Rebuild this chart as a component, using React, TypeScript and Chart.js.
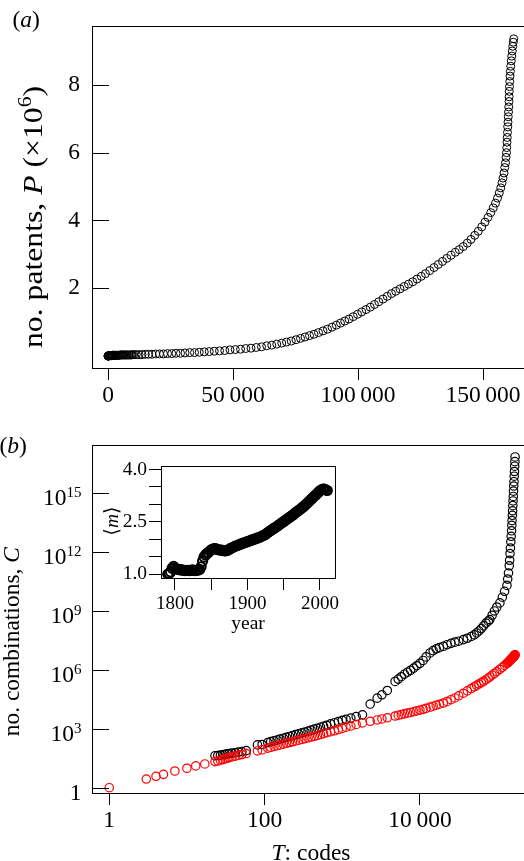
import React, { useEffect, useRef } from "react";
import { Chart, registerables } from "chart.js";
Chart.register(...registerables);

const SERIF = "'Liberation Serif', 'Times New Roman', 'DejaVu Serif', serif";

// ---------- Panel (a): patents P (millions) against codes T ----------
const codesA = [
  20, 40, 60, 90, 120, 150, 200, 250, 300, 370, 450, 540, 650, 770, 900, 1050, 1200, 1350, 1500, 1700, 1900, 2100,
  2300, 2550, 2800, 3050, 3300, 3600, 3900, 4200, 4500, 4850, 5200, 5550, 5900, 6300, 6700, 7100, 7500, 7950, 8400,
  8850, 9300, 9800,
  10300, 11300, 12400, 13600, 14900, 16200, 17600, 19100, 20600, 22200, 23800, 25500, 27200, 29000, 30800, 32700,
  34600, 36500, 38500, 40500, 42500, 44600, 46700, 48800, 50900, 53000, 55100, 57200, 59300, 61400, 63500, 65500,
  67500, 69500, 71400, 73300, 75200, 77000, 78800, 80600, 82400, 84200, 86000, 87800, 89600, 91300, 93000, 94700,
  96400, 98100, 99800, 101500, 103200, 104900, 106600, 108300, 110000, 111700, 113400, 115100, 116800, 118500,
  120200, 121900, 123600, 125300, 127000, 128700, 130400, 132100, 133800, 135500, 137200, 138900, 140500, 142100,
  143700, 145200, 146700, 148100, 149500, 150800, 152000, 153100, 154100, 155000, 155800, 156500, 157100, 157600,
  158000, 158400, 158700, 159000, 159200, 159400, 159500, 159600, 159700, 159800, 159900, 160000, 160100, 160200,
  160300, 160400, 160450, 160500, 160600, 160700, 160800, 160950, 161100, 161300, 161500, 161700, 161900, 162100, 162300,
];
const patentsA = [
  0, 0, 0, 0, 0, 0, 0, 0.01, 0.01, 0.01, 0.01, 0.01, 0.01, 0.01, 0.01, 0.01, 0.01, 0.01, 0.01, 0.02, 0.02, 0.02,
  0.02, 0.02, 0.02, 0.02, 0.02, 0.02, 0.02, 0.02, 0.02, 0.03, 0.03, 0.03, 0.03, 0.03, 0.03, 0.03, 0.03, 0.03, 0.03,
  0.03, 0.03, 0.04,
  0.04, 0.04, 0.04, 0.04, 0.05, 0.05, 0.05, 0.06, 0.06, 0.06, 0.07, 0.07, 0.08, 0.08, 0.09, 0.1,
  0.1, 0.11, 0.12, 0.13, 0.14, 0.15, 0.16, 0.18, 0.19, 0.2, 0.22, 0.23, 0.25, 0.27, 0.3, 0.32,
  0.35, 0.38, 0.41, 0.44, 0.48, 0.52, 0.56, 0.6, 0.64, 0.69, 0.74, 0.79, 0.85, 0.91, 0.97, 1.03,
  1.09, 1.16, 1.23, 1.3, 1.37, 1.44, 1.52, 1.6, 1.68, 1.76, 1.84, 1.91, 1.98, 2.05,
  2.12, 2.19, 2.27, 2.35, 2.43, 2.52, 2.61, 2.7, 2.79, 2.88, 2.97, 3.06, 3.14, 3.23,
  3.33, 3.44, 3.56, 3.68, 3.81, 3.95, 4.09, 4.23, 4.37, 4.51, 4.66, 4.81, 4.96, 5.11,
  5.25, 5.4, 5.56, 5.7, 5.86, 6.0, 6.15, 6.31, 6.45, 6.6, 6.76, 6.9, 7.06, 7.2,
  7.35, 7.51, 7.65, 7.81, 7.95, 8.1, 8.26, 8.4, 8.55, 8.71, 8.85, 9.0, 9.14, 9.26, 9.36,
];
const xTicksA = [0, 50000, 100000, 150000];
const yTicksA = [2, 4, 6, 8];

// ---------- Panel (b): combinations C against codes T (log-log) ----------
const codesB = [
  1, 3, 4, 5, 7, 10, 13, 17, 23, 25, 27, 29, 31, 33, 35, 38, 42, 46, 51, 58,
  81, 93, 110, 120, 132, 145, 158, 174, 191, 209, 229, 251, 275, 302, 331, 363, 398, 437, 479, 525,
  575, 631, 708, 794, 891, 1000, 1120, 1290, 1510, 1820, 2290, 2820, 3240, 3800, 4790, 5250, 5750, 6310, 6920, 7590,
  8320, 9120, 10000, 11000, 12000, 13500, 14800, 16200, 17800, 20000, 22400, 25100, 28200, 31600, 36300, 40700,
  45700, 50100, 53700, 57500, 61700, 66100, 70800, 75900, 79400, 85100, 91200, 97700, 107000, 115000, 123000,
  132000, 134900, 138000, 141300, 142900, 144500, 146200, 147900, 149600, 151400, 152400, 153500, 154900, 156000,
  157000, 158100, 159200, 160300, 161400, 162600, 163700, 164800, 166000, 167100, 167900,
];
// log10 of the number of possible combinations (black)
const combosAllLog10: (number | null)[] = [
  null, null, null, null, null, null, null, null, 1.63, 1.64, 1.66, 1.68, 1.7, 1.72, 1.74, 1.76, 1.78, 1.81, 1.84, 1.89,
  2.18, 2.2, 2.3, 2.35, 2.39, 2.43, 2.48, 2.52, 2.56, 2.61, 2.65, 2.7, 2.74, 2.79, 2.83, 2.88, 2.93, 2.98, 3.03, 3.08,
  3.13, 3.18, 3.25, 3.31, 3.37, 3.43, 3.48, 3.54, 3.62, 3.71, 4.26, 4.56, 4.73, 4.95, 5.41, 5.53, 5.65, 5.78, 5.88, 5.98,
  6.09, 6.21, 6.33, 6.48, 6.66, 6.86, 6.98, 7.07, 7.13, 7.2, 7.28, 7.35, 7.41, 7.46, 7.54, 7.61,
  7.7, 7.78, 7.88, 7.98, 8.1, 8.24, 8.38, 8.48, 8.56, 8.78, 9.0, 9.2, 9.41, 9.7, 10.0,
  10.3, 10.62, 10.93, 11.3, 11.58, 11.92, 12.2, 12.52, 12.8, 13.08, 13.36, 13.6, 13.87, 14.1,
  14.36, 14.6, 14.83, 15.1, 15.36, 15.58, 15.86, 16.1, 16.37, 16.6, 16.84,
];
// log10 of the number of realised combinations (red)
const combosUsedLog10 = [
  0.0, 0.44, 0.58, 0.68, 0.85, 0.99, 1.11, 1.21, 1.33, 1.36, 1.4, 1.43, 1.47, 1.5, 1.54, 1.57, 1.61, 1.65, 1.69, 1.74,
  1.87, 1.93, 2.01, 2.06, 2.1, 2.14, 2.18, 2.22, 2.26, 2.3, 2.34, 2.38, 2.42, 2.46, 2.5, 2.54, 2.58, 2.62, 2.66, 2.71,
  2.75, 2.8, 2.85, 2.9, 2.96, 3.02, 3.08, 3.14, 3.22, 3.3, 3.38, 3.45, 3.5, 3.56, 3.65, 3.69, 3.72, 3.76, 3.8, 3.83,
  3.87, 3.91, 3.95, 3.99, 4.04, 4.1, 4.15, 4.2, 4.25, 4.31, 4.39, 4.48, 4.57, 4.68, 4.81, 4.93,
  5.05, 5.14, 5.21, 5.28, 5.35, 5.42, 5.5, 5.58, 5.64, 5.73, 5.82, 5.91, 6.03, 6.13, 6.23,
  6.33, 6.36, 6.4, 6.44, 6.46, 6.49, 6.51, 6.53, 6.55, 6.57, 6.58, 6.59, 6.61, 6.62,
  6.63, 6.64, 6.65, 6.67, 6.68, 6.69, 6.71, 6.72, 6.74, 6.76, 6.77,
];
const xTicksB = [1, 100, 10000];
const yTicksBExp = [0, 3, 6, 9, 12, 15];

// ---------- Inset: mean codes per patent <m> against year ----------
const years = [
  1790, 1792, 1794, 1796, 1798, 1800, 1802, 1804, 1806, 1808, 1810, 1812, 1814, 1816, 1818, 1820, 1822, 1824, 1826, 1828,
  1830, 1832, 1834, 1836, 1838, 1840, 1842, 1844, 1846, 1848, 1850, 1852, 1854, 1856, 1858, 1860, 1862, 1864, 1866, 1868,
  1870, 1872, 1874, 1876, 1878, 1880, 1882, 1884, 1886, 1888, 1890, 1892, 1894, 1896, 1898, 1900, 1902, 1904, 1906, 1908,
  1910, 1912, 1914, 1916, 1918, 1920, 1922, 1924, 1926, 1928, 1930, 1932, 1934, 1936, 1938, 1940, 1942, 1944, 1946, 1948,
  1950, 1952, 1954, 1956, 1958, 1960, 1962, 1964, 1966, 1968, 1970, 1972, 1974, 1976, 1978, 1980, 1982, 1984, 1986, 1988,
  1990, 1992, 1994, 1996, 1998, 2000, 2002, 2004, 2006, 2008, 2010,
];
const meanCodes = [
  1.0, 1.02, 1.06, 1.17, 1.22, 1.18, 1.15, 1.14, 1.13, 1.12, 1.12, 1.11, 1.1, 1.11, 1.11, 1.1, 1.11, 1.12, 1.11, 1.1,
  1.11, 1.12, 1.13, 1.21, 1.37, 1.49, 1.55, 1.59, 1.62, 1.66, 1.7, 1.72, 1.73, 1.73, 1.71, 1.7, 1.69, 1.69, 1.68, 1.67,
  1.67, 1.68, 1.7, 1.73, 1.75, 1.77, 1.79, 1.81, 1.82, 1.84, 1.86, 1.87, 1.89, 1.9, 1.92, 1.93, 1.95, 1.96, 1.98, 1.99,
  2.01, 2.02, 2.04, 2.05, 2.07, 2.09, 2.11, 2.13, 2.16, 2.19, 2.22, 2.25, 2.28, 2.31, 2.33, 2.36, 2.39, 2.42, 2.45, 2.48,
  2.51, 2.54, 2.57, 2.6, 2.63, 2.66, 2.69, 2.72, 2.76, 2.79, 2.82, 2.85, 2.88, 2.92, 2.95, 2.99, 3.03, 3.07, 3.11, 3.15,
  3.19, 3.23, 3.27, 3.31, 3.35, 3.39, 3.42, 3.44, 3.44, 3.42, 3.4,
];
const insetXTicks = [1800, 1850, 1900, 1950, 2000];
const insetXLabels = [1800, 1900, 2000];
const insetYTicks = [1, 1.5, 2, 2.5, 3, 3.5, 4];
const insetYLabels = [1, 2.5, 4];

// ---------- helpers ----------
type Seg = { t: string; it?: boolean; sup?: boolean };

function drawRich(
  ctx: CanvasRenderingContext2D,
  segs: Seg[],
  size: number,
  x: number,
  y: number,
  align: "left" | "center" | "right",
  rotate = false,
  stretchTo?: number,
  supScale = 0.68,
  supRise = 0.42
) {
  ctx.save();
  const font = (s: Seg) => `${s.it ? "italic " : ""}${s.sup ? size * supScale : size}px ${SERIF}`;
  const widths = segs.map((s) => {
    ctx.font = font(s);
    return ctx.measureText(s.t).width;
  });
  const total = widths.reduce((a, b) => a + b, 0);
  ctx.translate(x, y);
  if (rotate) ctx.rotate(-Math.PI / 2);
  if (stretchTo) ctx.scale(stretchTo / total, 1);
  let cx = align === "center" ? -total / 2 : align === "right" ? -total : 0;
  ctx.fillStyle = "#000";
  ctx.textAlign = "left";
  ctx.textBaseline = "alphabetic";
  segs.forEach((s, i) => {
    ctx.font = font(s);
    ctx.fillText(s.t, cx, s.sup ? -size * supRise : 0);
    cx += widths[i];
  });
  ctx.restore();
}

function frame(ctx: CanvasRenderingContext2D, a: any) {
  ctx.save();
  ctx.strokeStyle = "#000";
  ctx.lineWidth = 1;
  ctx.strokeRect(Math.round(a.left) + 0.5, Math.round(a.top) + 0.5, Math.round(a.right - a.left), Math.round(a.bottom - a.top));
  ctx.restore();
}

function inwardTicks(ctx: CanvasRenderingContext2D, a: any, scale: any, values: number[], len: number) {
  ctx.save();
  ctx.strokeStyle = "#000";
  ctx.lineWidth = 1;
  values.forEach((v) => {
    const py = Math.round(scale.getPixelForValue(v)) + 0.5;
    ctx.beginPath();
    ctx.moveTo(a.left, py);
    ctx.lineTo(a.left + len, py);
    ctx.stroke();
  });
  ctx.restore();
}

function groupThousands(v: number) {
  const s = String(v);
  return s.length > 4 ? s.slice(0, -3) + "\u2009" + s.slice(-3) : s;
}

const tickFont = { family: SERIF, size: 23.5 };
const noPlugins = { legend: { display: false }, tooltip: { enabled: false } };

export default function App() {
  const aRef = useRef<HTMLCanvasElement>(null);
  const bRef = useRef<HTMLCanvasElement>(null);
  const iRef = useRef<HTMLCanvasElement>(null);

  useEffect(() => {
    const decorA = {
      id: "decorA",
      afterDraw(chart: any) {
        const { ctx, chartArea: a, scales } = chart;
        frame(ctx, a);
        inwardTicks(ctx, a, scales.y, yTicksA, 17);
        drawRich(ctx, [{ t: "(" }, { t: "a", it: true }, { t: ")" }], 23.5, 12.5, 27, "left");
        drawRich(
          ctx,
          [{ t: "no. patents, " }, { t: "P", it: true }, { t: " (×10" }, { t: "6", sup: true }, { t: ")" }],
          27, 42, 217, "center", true, 262
        );
      },
    };

    const chartA = new Chart(aRef.current as HTMLCanvasElement, {
      type: "scatter",
      data: {
        datasets: [
          {
            data: codesA.map((t, i) => ({ x: t, y: patentsA[i] })),
            pointRadius: 4,
            pointHoverRadius: 4,
            pointBorderWidth: 1,
            pointBorderColor: "#000",
            pointBackgroundColor: "rgba(0,0,0,0)",
          },
        ],
      },
      options: {
        responsive: false,
        animation: false,
        events: [],
        devicePixelRatio: 1,
        layout: { padding: { left: 0, top: 21, right: 28, bottom: 12 } },
        plugins: noPlugins,
        scales: {
          x: {
            type: "linear",
            min: -6400,
            max: 169600,
            afterBuildTicks: (s: any) => { s.ticks = xTicksA.map((v) => ({ value: v })); },
            afterFit: (s: any) => { s.height = 40; },
            grid: { drawOnChartArea: false, drawTicks: true, tickLength: 12, color: "#000", lineWidth: 1 },
            border: { display: false },
            ticks: { font: tickFont, color: "#000", padding: 2, maxRotation: 0, autoSkip: false, callback: (v: any) => groupThousands(Number(v)) },
          },
          y: {
            type: "linear",
            min: -0.355,
            max: 9.735,
            afterBuildTicks: (s: any) => { s.ticks = yTicksA.map((v) => ({ value: v })); },
            afterFit: (s: any) => { s.width = 92; },
            grid: { display: false, drawTicks: false },
            border: { display: false },
            ticks: { font: tickFont, color: "#000", padding: 12, autoSkip: false, callback: (v: any) => String(v) },
          },
        },
      },
      plugins: [decorA],
    } as any);

    const decorB = {
      id: "decorB",
      afterDraw(chart: any) {
        const { ctx, chartArea: a, scales } = chart;
        frame(ctx, a);
        inwardTicks(ctx, a, scales.y, yTicksBExp.map((e) => Math.pow(10, e)), 17);
        yTicksBExp.forEach((e) => {
          const py = scales.y.getPixelForValue(Math.pow(10, e));
          if (e === 0) drawRich(ctx, [{ t: "1" }], 23.5, 81.5, py + 12, "right");
          else drawRich(ctx, [{ t: "10" }, { t: String(e), sup: true }], 23.5, 81.5, py + 12, "right", false, undefined, 0.64, 0.34);
        });
        drawRich(ctx, [{ t: "(" }, { t: "b", it: true }, { t: ")" }], 23.5, -0.5, 33, "left");
        drawRich(ctx, [{ t: "no. combinations, " }, { t: "C", it: true }], 23.5, 19, 221.7, "center", true);
        drawRich(ctx, [{ t: "T", it: true }, { t: ": codes" }], 23.5, 311, 440, "center");
      },
    };

    const redData = codesB.map((t, i) => ({ x: t, y: Math.pow(10, combosUsedLog10[i]) }));
    const blackData = codesB
      .map((t, i) => (combosAllLog10[i] === null ? null : { x: t, y: Math.pow(10, combosAllLog10[i] as number) }))
      .filter((p) => p !== null);

    const chartB = new Chart(bRef.current as HTMLCanvasElement, {
      type: "scatter",
      data: {
        datasets: [
          {
            data: redData,
            pointRadius: 4.2,
            pointHoverRadius: 4.2,
            pointBorderWidth: 1.2,
            pointBorderColor: "#ff0000",
            pointBackgroundColor: "rgba(0,0,0,0)",
          },
          {
            data: blackData,
            pointRadius: 4.2,
            pointHoverRadius: 4.2,
            pointBorderWidth: 1.2,
            pointBorderColor: "#000",
            pointBackgroundColor: "rgba(0,0,0,0)",
          },
        ],
      },
      options: {
        responsive: false,
        animation: false,
        events: [],
        devicePixelRatio: 1,
        layout: { padding: { left: 0, top: 25, right: 28, bottom: 18 } },
        plugins: noPlugins,
        scales: {
          x: {
            type: "logarithmic",
            min: 0.6231,
            max: 277300,
            afterBuildTicks: (s: any) => { s.ticks = xTicksB.map((v) => ({ value: v })); },
            afterFit: (s: any) => { s.height = 50; },
            grid: { drawOnChartArea: false, drawTicks: true, tickLength: 12, color: "#000", lineWidth: 1 },
            border: { display: false },
            ticks: { font: tickFont, color: "#000", padding: 2, maxRotation: 0, autoSkip: false, callback: (v: any) => groupThousands(Number(v)) },
          },
          y: {
            type: "logarithmic",
            min: 0.537,
            max: 2.81e17,
            afterBuildTicks: (s: any) => { s.ticks = yTicksBExp.map((e) => ({ value: Math.pow(10, e) })); },
            afterFit: (s: any) => { s.width = 92; },
            grid: { display: false, drawTicks: false },
            border: { display: false },
            ticks: { display: false },
          },
        },
      },
      plugins: [decorB],
    } as any);

    const decorI = {
      id: "decorI",
      beforeDraw(chart: any) {
        const { ctx, chartArea: a } = chart;
        ctx.save();
        ctx.fillStyle = "#fff";
        ctx.fillRect(a.left, a.top, a.right - a.left, a.bottom - a.top);
        ctx.restore();
      },
      afterDraw(chart: any) {
        const { ctx, chartArea: a } = chart;
        frame(ctx, a);
        drawRich(ctx, [{ t: "year" }], 19.5, (a.left + a.right) / 2, 177, "center");
        drawRich(ctx, [{ t: "\u27E8" }, { t: "m", it: true }, { t: "\u27E9" }], 19.5, 18, 69, "center", true);
      },
    };

    const chartI = new Chart(iRef.current as HTMLCanvasElement, {
      type: "scatter",
      data: {
        datasets: [
          {
            data: years.map((y, i) => ({ x: y, y: meanCodes[i] })),
            pointRadius: 4.6,
            pointHoverRadius: 4.6,
            pointBorderWidth: 2,
            pointBorderColor: "#000",
            pointBackgroundColor: "rgba(0,0,0,0)",
          },
        ],
      },
      options: {
        responsive: false,
        animation: false,
        events: [],
        devicePixelRatio: 1,
        layout: { padding: { left: 0, top: 10, right: 15, bottom: 24 } },
        plugins: noPlugins,
        scales: {
          x: {
            type: "linear",
            min: 1780.69,
            max: 2020.69,
            afterBuildTicks: (s: any) => { s.ticks = insetXTicks.map((v) => ({ value: v })); },
            afterFit: (s: any) => { s.height = 50; },
            grid: { drawOnChartArea: false, drawTicks: true, tickLength: 12, color: "#000", lineWidth: 1 },
            border: { display: false },
            ticks: {
              font: { family: SERIF, size: 19 },
              color: "#000",
              padding: 3,
              maxRotation: 0,
              autoSkip: false,
              callback: (v: any) => (insetXLabels.includes(Number(v)) ? String(v) : ""),
            },
          },
          y: {
            type: "linear",
            min: 0.889,
            max: 4.111,
            afterBuildTicks: (s: any) => { s.ticks = insetYTicks.map((v) => ({ value: v })); },
            afterFit: (s: any) => { s.width = 61; },
            grid: { drawOnChartArea: false, drawTicks: true, tickLength: 12, color: "#000", lineWidth: 1 },
            border: { display: false },
            ticks: {
              font: { family: SERIF, size: 19.5 },
              color: "#000",
              padding: 2,
              autoSkip: false,
              callback: (v: any) => (insetYLabels.includes(Number(v)) ? Number(v).toFixed(1) : ""),
            },
          },
        },
      },
      plugins: [decorI],
    } as any);

    return () => {
      chartA.destroy();
      chartB.destroy();
      chartI.destroy();
    };
  }, []);

  return (
    <div style={{ position: "fixed", left: 0, top: 0, width: 524, height: 861, overflow: "hidden", background: "#fff" }}>
      <canvas ref={aRef} width={560} height={420} style={{ position: "absolute", left: 0, top: 0 }} />
      <canvas ref={bRef} width={560} height={441} style={{ position: "absolute", left: 0, top: 420 }} />
      <canvas ref={iRef} width={250} height={200} style={{ position: "absolute", left: 100, top: 452 }} />
    </div>
  );
}
